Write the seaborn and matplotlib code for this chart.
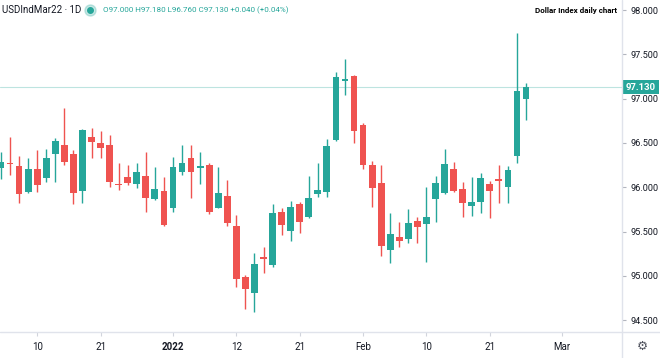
import pandas as pd
import numpy as np
import seaborn as sns
import matplotlib.pyplot as plt
import matplotlib.transforms as mtransforms
from matplotlib.lines import Line2D

# === Daily OHLC values ===
dates = [d for d in pd.bdate_range("2021-12-06", "2022-02-25") if d != pd.Timestamp("2021-12-24")]

opens = [96.22, 96.27, 96.24, 95.95, 96.21, 96.10, 96.38, 96.48, 96.38, 95.96,
         96.57, 96.50, 96.48, 96.04, 96.12, 96.04, 96.13, 95.87, 95.96, 95.77,
         96.17, 96.33, 96.22, 96.25, 95.77, 95.90, 95.56, 94.99, 94.81, 95.21,
         95.12, 95.72, 95.51, 95.81, 95.66, 95.92, 95.95, 96.53, 97.20, 97.26,
         96.70, 96.25, 96.05, 95.29, 95.44, 95.41, 95.62, 95.58, 95.87, 95.93,
         96.21, 95.98, 95.79, 95.83, 96.04, 96.09, 96.00, 96.35, 97.00]
highs = [96.40, 96.57, 96.35, 96.33, 96.42, 96.43, 96.56, 96.89, 96.42, 96.66,
         96.67, 96.63, 96.59, 96.27, 96.25, 96.27, 96.40, 96.23, 96.12, 96.34,
         96.48, 96.48, 96.40, 96.27, 96.23, 96.08, 95.69, 95.01, 95.26, 95.33,
         95.81, 95.77, 95.84, 95.83, 96.13, 96.27, 96.54, 97.30, 97.45, 97.27,
         96.73, 96.30, 96.25, 95.71, 95.61, 95.75, 95.66, 96.00, 96.13, 96.43,
         96.28, 96.06, 96.12, 96.16, 96.07, 96.25, 96.24, 97.74, 97.18]
lows = [96.09, 96.14, 95.82, 95.94, 95.95, 96.06, 96.06, 96.25, 95.81, 95.82,
        96.33, 96.33, 96.00, 95.97, 96.03, 95.99, 95.72, 95.86, 95.56, 95.72,
        96.14, 95.88, 96.04, 95.70, 95.76, 95.56, 94.87, 94.63, 94.59, 95.03,
        95.10, 95.46, 95.39, 95.48, 95.65, 95.89, 95.89, 96.52, 97.04, 96.50,
        96.21, 95.78, 95.22, 95.14, 95.33, 95.37, 95.37, 95.16, 95.61, 95.92,
        95.95, 95.66, 95.68, 95.71, 95.65, 95.82, 95.82, 96.27, 96.76]
closes = [96.28, 96.26, 95.92, 96.21, 96.03, 96.33, 96.52, 96.28, 95.93, 96.65,
          96.51, 96.44, 96.06, 96.02, 96.05, 96.17, 95.88, 95.98, 95.57, 96.23,
          96.27, 96.17, 96.23, 95.72, 95.93, 95.60, 94.96, 94.85, 95.13, 95.19,
          95.71, 95.57, 95.78, 95.61, 95.88, 95.97, 96.47, 97.24, 97.22, 96.63,
          96.25, 95.99, 95.34, 95.47, 95.39, 95.60, 95.55, 95.66, 96.05, 96.26,
          95.96, 95.82, 95.83, 96.10, 95.96, 96.07, 96.19, 97.09, 97.13]
day_change = 0.040
day_change_pct = 0.04

tick_labels = ["10", "21", "2022", "12", "21", "Feb", "10", "21", "Mar"]
tick_pos = [4, 11, 19, 26, 33, 40, 47, 54, 62]
price_ticks = [94.5, 95.0, 95.5, 96.0, 96.5, 97.0, 97.5, 98.0]

df = pd.DataFrame({"date": dates, "open": opens, "high": highs, "low": lows, "close": closes})
df["idx"] = np.arange(len(df))
df["up"] = df["close"] >= df["open"]

GREEN = "#26a69a"
RED = "#ef5350"
TEXT = "#131722"
LINE = "#e0e3eb"

sns.set_theme(style="white")
plt.rcParams["font.family"] = ["Roboto", "DejaVu Sans"]

fig = plt.figure(figsize=(6.6, 3.58), dpi=100)
ax = fig.add_axes([0, 26 / 358, 622 / 660, 332 / 358])

colors = np.where(df["up"], GREEN, RED)

# wicks
ax.vlines(df["idx"], df["low"], df["high"], colors=colors, linewidth=1.0, zorder=2)
# bodies
body_low = df[["open", "close"]].min(axis=1)
body_h = (df["open"] - df["close"]).abs().clip(lower=0.015)
ax.bar(df["idx"], body_h, bottom=body_low, width=0.75, color=colors, linewidth=0, zorder=3)

# last price line and label
last = df["close"].iloc[-1]
ax.axhline(last, color=GREEN, alpha=0.3, linewidth=0.8, zorder=1)
trans = mtransforms.blended_transform_factory(ax.transAxes, ax.transData)
ax.text(1 + 19 / 622, last, f"{last:.3f}", transform=trans, ha="center", va="center",
        color="white", fontsize=6.8, fontweight="bold", clip_on=False,
        bbox=dict(boxstyle="square,pad=0.3", fc=GREEN, ec="none"))

ax.set_xlim(-0.11, 68.6)
ax.set_ylim(94.366, 98.113)

ax.yaxis.tick_right()
ax.set_yticks(price_ticks)
ax.set_yticklabels([f"{v:.3f}" for v in price_ticks])
ax.set_xticks(tick_pos)
ax.set_xticklabels(tick_labels)
for lab in ax.get_xticklabels():
    if lab.get_text() == "2022":
        lab.set_fontweight("bold")

ax.tick_params(axis="y", right=True, left=False, length=3, width=0.8, pad=3,
               color="#b2b5be", labelcolor=TEXT, labelsize=6.6)
ax.tick_params(axis="x", bottom=True, length=3, width=0.8, pad=4,
               color="#d1d4dc", labelcolor=TEXT, labelsize=7)
for s in ax.spines.values():
    s.set_visible(False)
ax.grid(False)

# scale borders across the whole figure
fig.add_artist(Line2D([0, 1], [26 / 358, 26 / 358], color=LINE, linewidth=1, transform=fig.transFigure))
fig.add_artist(Line2D([622 / 660, 622 / 660], [0, 1], color=LINE, linewidth=1, transform=fig.transFigure))

# header
fig.text(2 / 660, 1 - 10 / 358, "USDIndMar22 · 1D", ha="left", va="center", fontsize=7, color=TEXT)
fig.add_artist(Line2D([90 / 660], [1 - 10 / 358], marker="o", markersize=8, color=GREEN, alpha=0.25,
                      linestyle="none", transform=fig.transFigure))
fig.add_artist(Line2D([90 / 660], [1 - 10 / 358], marker="o", markersize=4, color=GREEN,
                      linestyle="none", transform=fig.transFigure))
o, h, l, c = opens[-1], highs[-1], lows[-1], closes[-1]
fig.text(103 / 660, 1 - 10 / 358,
         f"O{o:.3f} H{h:.3f} L{l:.3f} C{c:.3f} +{day_change:.3f} (+{day_change_pct:.2f}%)",
         ha="left", va="center", fontsize=5.8, color=GREEN)
fig.text(617 / 660, 1 - 10 / 358, "Dollar Index daily chart", ha="right", va="center",
         fontsize=5.8, fontweight="bold", color="black")

# settings gear
fig.text(642 / 660, 1 - 346 / 358, "⚙", ha="center", va="center", fontsize=9, color="#50535e")

fig.savefig("out.png", dpi=100)
